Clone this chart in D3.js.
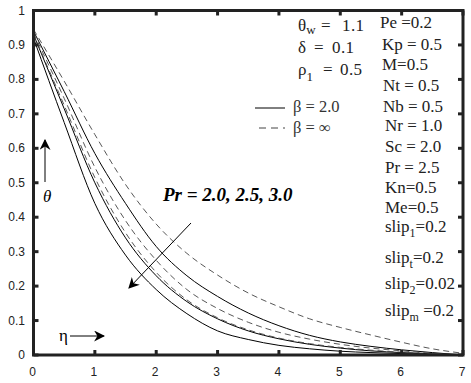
<!DOCTYPE html>
<html>
<head>
<meta charset="utf-8">
<script src="https://cdn.jsdelivr.net/npm/d3@7"></script>
<style>
body { margin: 0; background: #fff; }
#chart { width: 471px; height: 383px; }
</style>
</head>
<body>
<div id="chart"></div>
<script>
// eta grid and theta profiles
let eta = [0, 0.5, 1, 1.5, 2, 2.5, 3, 3.5, 4, 4.5, 5, 5.5, 6, 6.5, 7];
// beta = 2.0 (solid)
let solidPr20 = [0.94, 0.765, 0.585, 0.44, 0.315, 0.23, 0.17, 0.122, 0.085, 0.057, 0.038, 0.025, 0.015, 0.007, 0];
let solidPr25 = [0.93, 0.715, 0.50, 0.34, 0.23, 0.155, 0.105, 0.07, 0.047, 0.031, 0.02, 0.012, 0.007, 0.003, 0];
let solidPr30 = [0.92, 0.675, 0.44, 0.29, 0.19, 0.12, 0.07, 0.045, 0.028, 0.018, 0.011, 0.007, 0.004, 0.002, 0];
// beta = infinity (dashed)
let dashPr20 = [0.945, 0.795, 0.64, 0.495, 0.38, 0.295, 0.232, 0.18, 0.14, 0.105, 0.08, 0.058, 0.037, 0.018, 0.005];
let dashPr25 = [0.935, 0.745, 0.545, 0.39, 0.275, 0.19, 0.135, 0.095, 0.066, 0.046, 0.031, 0.02, 0.012, 0.005, 0];
let dashPr30 = [0.93, 0.725, 0.515, 0.355, 0.24, 0.16, 0.108, 0.073, 0.049, 0.033, 0.022, 0.014, 0.008, 0.004, 0];

let xTicks = [0, 1, 2, 3, 4, 5, 6, 7];
let yTicks = [0, 0.1, 0.2, 0.3, 0.4, 0.5, 0.6, 0.7, 0.8, 0.9, 1];
let yTickLabels = ["0", "0.1", "0.2", "0.3", "0.4", "0.5", "0.6", "0.7", "0.8", "0.9", "1"];

let paramLabels = [
    ["Pe =0.2"], ["Kp = 0.5"], ["M=0.5"], ["Nt = 0.5"], ["Nb = 0.5"], ["Nr = 1.0"],
    ["Sc = 2.0"], ["Pr = 2.5"], ["Kn=0.5"], ["Me=0.5"],
    ["slip", "1", "=0.2"], ["slip", "t", "=0.2"], ["slip", "2", "=0.02"], ["slip", "m", " =0.2"]
];
let paramY = [28, 50, 70, 91, 112, 131, 152, 173, 193, 213, 232, 263, 289, 316];
let paramX = [380, 382, 382, 383, 383, 385, 385, 385, 385, 385, 385, 385, 385, 385];

window.addEventListener("load", function () {
    draw();
});

function draw() {
    let width = 471, height = 383;
    let svg = d3.select("#chart").append("svg")
        .attr("width", width)
        .attr("height", height);

    let left = 33.5, right = 463, top = 10.5, bottom = 355;

    let x = d3.scaleLinear().domain([0, 7]).range([left, right]);
    let y = d3.scaleLinear().domain([0, 1]).range([bottom, top]);

    let line = d3.line()
        .x(d => x(d[0]))
        .y(d => y(d[1]))
        .curve(d3.curveMonotoneX);

    let series = [
        { v: solidPr20, dash: false }, { v: solidPr25, dash: false }, { v: solidPr30, dash: false },
        { v: dashPr20, dash: true }, { v: dashPr25, dash: true }, { v: dashPr30, dash: true }
    ];

    svg.selectAll(".curve")
        .data(series)
        .enter()
        .append("path")
        .attr("class", "curve")
        .attr("d", d => line(eta.map((e, i) => [e, d.v[i]])))
        .attr("fill", "none")
        .attr("stroke", d => d.dash ? "#444" : "#000")
        .attr("stroke-width", d => d.dash ? 0.9 : 1)
        .attr("stroke-dasharray", d => d.dash ? "6,4" : null);

    // frame
    svg.append("rect")
        .attr("x", left).attr("y", top)
        .attr("width", right - left).attr("height", bottom - top)
        .attr("fill", "none")
        .attr("stroke", "#222")
        .attr("stroke-width", 3);

    // ticks inside, all four sides
    let tl = 5;
    svg.selectAll(".xtb").data(xTicks).enter().append("line")
        .attr("x1", d => x(d)).attr("x2", d => x(d))
        .attr("y1", bottom).attr("y2", bottom - tl)
        .attr("stroke", "#222").attr("stroke-width", 3);
    svg.selectAll(".xtt").data(xTicks).enter().append("line")
        .attr("x1", d => x(d)).attr("x2", d => x(d))
        .attr("y1", top).attr("y2", top + tl)
        .attr("stroke", "#222").attr("stroke-width", 3);
    svg.selectAll(".ytl").data(yTicks).enter().append("line")
        .attr("x1", left).attr("x2", left + tl)
        .attr("y1", d => y(d)).attr("y2", d => y(d))
        .attr("stroke", "#222").attr("stroke-width", 3);
    svg.selectAll(".ytr").data(yTicks).enter().append("line")
        .attr("x1", right).attr("x2", right - tl)
        .attr("y1", d => y(d)).attr("y2", d => y(d))
        .attr("stroke", "#222").attr("stroke-width", 3);

    svg.selectAll(".xlab").data(xTicks).enter().append("text")
        .text(d => d)
        .attr("x", d => x(d) - 1)
        .attr("y", 376)
        .attr("text-anchor", "middle")
        .attr("font-family", "Liberation Sans, Arial, sans-serif")
        .attr("font-size", 12)
        .attr("fill", "#222");

    svg.selectAll(".ylab").data(yTicks).enter().append("text")
        .text((d, i) => yTickLabels[i])
        .attr("x", 25)
        .attr("y", d => y(d) + 4)
        .attr("text-anchor", "end")
        .attr("font-family", "Liberation Sans, Arial, sans-serif")
        .attr("font-size", 12)
        .attr("fill", "#222");

    // arrow marker
    let defs = svg.append("defs");
    defs.append("marker")
        .attr("id", "arr")
        .attr("viewBox", "0 0 10 10")
        .attr("refX", 9).attr("refY", 5)
        .attr("markerWidth", 11).attr("markerHeight", 11)
        .attr("markerUnits", "userSpaceOnUse")
        .attr("orient", "auto")
        .append("path")
        .attr("d", "M0,0 L10,5 L0,10 L3,5 Z")
        .attr("fill", "#000");

    let serif = "Liberation Serif, Times New Roman, serif";

    // theta arrow + label
    svg.append("line")
        .attr("x1", 45).attr("y1", 182).attr("x2", 45).attr("y2", 140)
        .attr("stroke", "#000").attr("stroke-width", 1)
        .attr("marker-end", "url(#arr)");
    svg.append("text").text("θ")
        .attr("x", 43).attr("y", 202)
        .attr("font-family", serif)
        .attr("font-style", "italic")
        .attr("font-size", 17);

    // eta arrow + label
    svg.append("text").text("η")
        .attr("x", 59).attr("y", 341)
        .attr("font-family", serif)
        .attr("font-size", 17);
    svg.append("line")
        .attr("x1", 70).attr("y1", 336).attr("x2", 104).attr("y2", 336)
        .attr("stroke", "#000").attr("stroke-width", 1)
        .attr("marker-end", "url(#arr)");

    // Pr arrow + label
    svg.append("line")
        .attr("x1", 191).attr("y1", 223).attr("x2", 129).attr("y2", 288)
        .attr("stroke", "#000").attr("stroke-width", 1)
        .attr("marker-end", "url(#arr)");
    svg.append("text").text("Pr = 2.0, 2.5, 3.0")
        .attr("x", 163).attr("y", 201)
        .attr("font-family", serif)
        .attr("font-style", "italic")
        .attr("font-weight", "bold")
        .attr("font-size", 19);

    // left parameter column: symbol, "=", value placed separately
    let leftCol = [
        { sym: "θ", sub: "w", subDy: 3, eqX: 321, valX: 342, val: "1.1", y: 31 },
        { sym: "δ", sub: null, eqX: 314, valX: 332, val: "0.1", y: 53 },
        { sym: "ρ", sub: "1", subDy: 6, eqX: 323, valX: 340, val: "0.5", y: 75 }
    ];
    leftCol.forEach(function (d) {
        let t = svg.append("text").attr("x", 298).attr("y", d.y)
            .attr("font-family", serif).attr("font-size", 17).attr("fill", "#222");
        t.append("tspan").text(d.sym);
        if (d.sub) t.append("tspan").text(d.sub).attr("font-size", 13).attr("dy", d.subDy);
        svg.append("text").text("=").attr("x", d.eqX).attr("y", d.y)
            .attr("font-family", serif).attr("font-size", 17).attr("fill", "#222");
        svg.append("text").text(d.val).attr("x", d.valX).attr("y", d.y)
            .attr("textLength", 22).attr("lengthAdjust", "spacing")
            .attr("font-family", serif).attr("font-size", 17).attr("fill", "#222");
    });

    // legend
    svg.append("line")
        .attr("x1", 255).attr("x2", 285).attr("y1", 108).attr("y2", 108)
        .attr("stroke", "#000").attr("stroke-width", 1);
    svg.append("line")
        .attr("x1", 259).attr("x2", 285).attr("y1", 128).attr("y2", 128)
        .attr("stroke", "#444").attr("stroke-width", 1)
        .attr("stroke-dasharray", "7,5");
    svg.append("text").text("β = 2.0")
        .attr("x", 293).attr("y", 112)
        .attr("font-family", serif).attr("font-size", 16.5).attr("fill", "#333");
    svg.append("text").text("β = ∞")
        .attr("x", 293).attr("y", 133)
        .attr("font-family", serif).attr("font-size", 16.5).attr("fill", "#333");

    // right parameter column
    svg.selectAll(".param").data(paramLabels).enter().append("text")
        .attr("class", "param")
        .attr("x", (d, i) => paramX[i])
        .attr("y", (d, i) => paramY[i])
        .attr("font-family", serif)
        .attr("font-size", 17)
        .attr("fill", "#222")
        .each(function (d) {
            let t = d3.select(this);
            t.append("tspan").text(d[0]);
            if (d.length > 1) {
                t.append("tspan").text(d[1]).attr("font-size", 12).attr("dy", 5);
                t.append("tspan").text(d[2]).attr("dy", -5);
            }
        });
}
</script>
</body>
</html>
